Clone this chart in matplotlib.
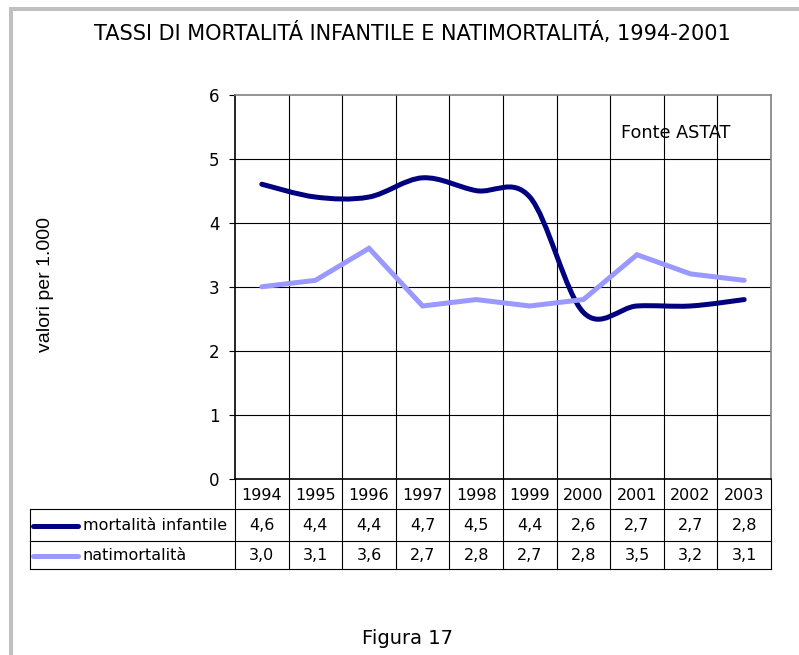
import numpy as np
import matplotlib
matplotlib.use("Agg")
import matplotlib.pyplot as plt
from matplotlib.path import Path
from matplotlib.patches import PathPatch, Rectangle

# dati (valori per 1.000)
anni = [1994, 1995, 1996, 1997, 1998, 1999, 2000, 2001, 2002, 2003]
mortalita_infantile = [4.6, 4.4, 4.4, 4.7, 4.5, 4.4, 2.6, 2.7, 2.7, 2.8]
natimortalita = [3.0, 3.1, 3.6, 2.7, 2.8, 2.7, 2.8, 3.5, 3.2, 3.1]
nomi_serie = ["mortalità infantile", "natimortalità"]
colori = ["#000080", "#9999FF"]

W, H = 799, 655
FONT = "DejaVu Sans"


def fx(px):
    return px / W


def fy(py):
    return 1 - py / H


def curva_smussata(x, y):
    # linea smussata stile Excel (bezier Catmull-Rom)
    x = np.asarray(x, float)
    y = np.asarray(y, float)
    xp = np.r_[x[0], x, x[-1]]
    yp = np.r_[y[0], y, y[-1]]
    verts = [(x[0], y[0])]
    codes = [Path.MOVETO]
    for j in range(1, len(x)):
        c1 = (xp[j] + (xp[j + 1] - xp[j - 1]) / 6, yp[j] + (yp[j + 1] - yp[j - 1]) / 6)
        c2 = (xp[j + 1] - (xp[j + 2] - xp[j]) / 6, yp[j + 1] - (yp[j + 2] - yp[j]) / 6)
        verts += [c1, c2, (xp[j + 1], yp[j + 1])]
        codes += [Path.CURVE4] * 3
    return Path(verts, codes)


fig = plt.figure(figsize=(W / 100, H / 100), dpi=100)

# cornice grigia del grafico
fig.add_artist(Rectangle((fx(11), fy(760)), fx(900), fy(9) - fy(760), transform=fig.transFigure,
                         fill=False, edgecolor="#c0c0c0", linewidth=2.9))

fig.text(fx(412), fy(33), "TASSI DI MORTALITÁ INFANTILE E NATIMORTALITÁ, 1994-2001",
         ha="center", va="center", fontsize=15, family=FONT)
fig.text(fx(46), fy(285), "valori per 1.000", rotation=90, ha="center", va="center",
         fontsize=14, family="Liberation Sans")
fig.text(fx(408), fy(639), "Figura 17", ha="center", va="center", fontsize=14, family=FONT)

# area del grafico
ax = fig.add_axes([fx(235), fy(479), fx(771) - fx(235), fy(94.5) - fy(479)])
x = np.arange(len(anni))
ax.set_xlim(-0.5, len(anni) - 0.5)
ax.set_ylim(0, 6)
ax.set_yticks(range(0, 7))
ax.set_xticks([])
for v in np.arange(0.5, len(anni) - 1, 1.0):
    ax.axvline(v, color="black", linewidth=0.8, zorder=1)
for v in range(1, 6):
    ax.axhline(v, color="black", linewidth=0.8, zorder=1)
ax.tick_params(axis="y", direction="out", length=4, width=0.8, pad=7, labelsize=12)
for lab in ax.get_yticklabels():
    lab.set_family(FONT)
ax.spines["left"].set_color("black")
ax.spines["bottom"].set_color("black")
ax.spines["top"].set_color("#808080")
ax.spines["right"].set_color("#808080")
for s in ax.spines.values():
    s.set_linewidth(1.2)

ax.add_patch(PathPatch(curva_smussata(x, mortalita_infantile), fill=False, edgecolor=colori[0],
                       linewidth=3.6, capstyle="round", joinstyle="round", zorder=3))
ax.plot(x, natimortalita, color=colori[1], linewidth=3.6, solid_capstyle="round",
        solid_joinstyle="miter", zorder=4)

ax.text(7.73, 5.4, "Fonte ASTAT", ha="center", va="center", fontsize=12.7, family=FONT)

# tabella dati
col = (771 - 235) / len(anni)
sx = -0.5 - (235 - 30) / col
tb = fig.add_axes([fx(30), fy(569), fx(771) - fx(30), fy(479) - fy(569)])
tb.set_xlim(sx, len(anni) - 0.5)
tb.set_ylim(569, 479)
tb.axis("off")
righe = [479, 509, 541, 569]
lw = 0.8
for v in np.arange(-0.5, len(anni), 1.0):
    tb.plot([v, v], [righe[0], righe[-1]], color="black", linewidth=lw, clip_on=False)
tb.plot([sx, sx], [righe[1], righe[-1]], color="black", linewidth=lw, clip_on=False)
for r in righe[1:]:
    tb.plot([sx, len(anni) - 0.5], [r, r], color="black", linewidth=lw, clip_on=False)

for i, a in enumerate(anni):
    tb.text(i, (righe[0] + righe[1]) / 2 + 1, str(a), ha="center", va="center",
            fontsize=11.5, family=FONT)
for k, valori in enumerate([mortalita_infantile, natimortalita]):
    yc = (righe[k + 1] + righe[k + 2]) / 2 + 1
    for i, v in enumerate(valori):
        tb.text(i, yc, f"{v:.1f}".replace(".", ","), ha="center", va="center",
                fontsize=11.5, family=FONT)
    tb.plot([sx + 3 / col, sx + 48 / col], [yc, yc], color=colori[k], linewidth=3.6,
            solid_capstyle="round", clip_on=False)
    tb.text(sx + 53 / col, yc, nomi_serie[k], ha="left", va="center", fontsize=11.5, family=FONT)

fig.savefig("out.png", dpi=100)
